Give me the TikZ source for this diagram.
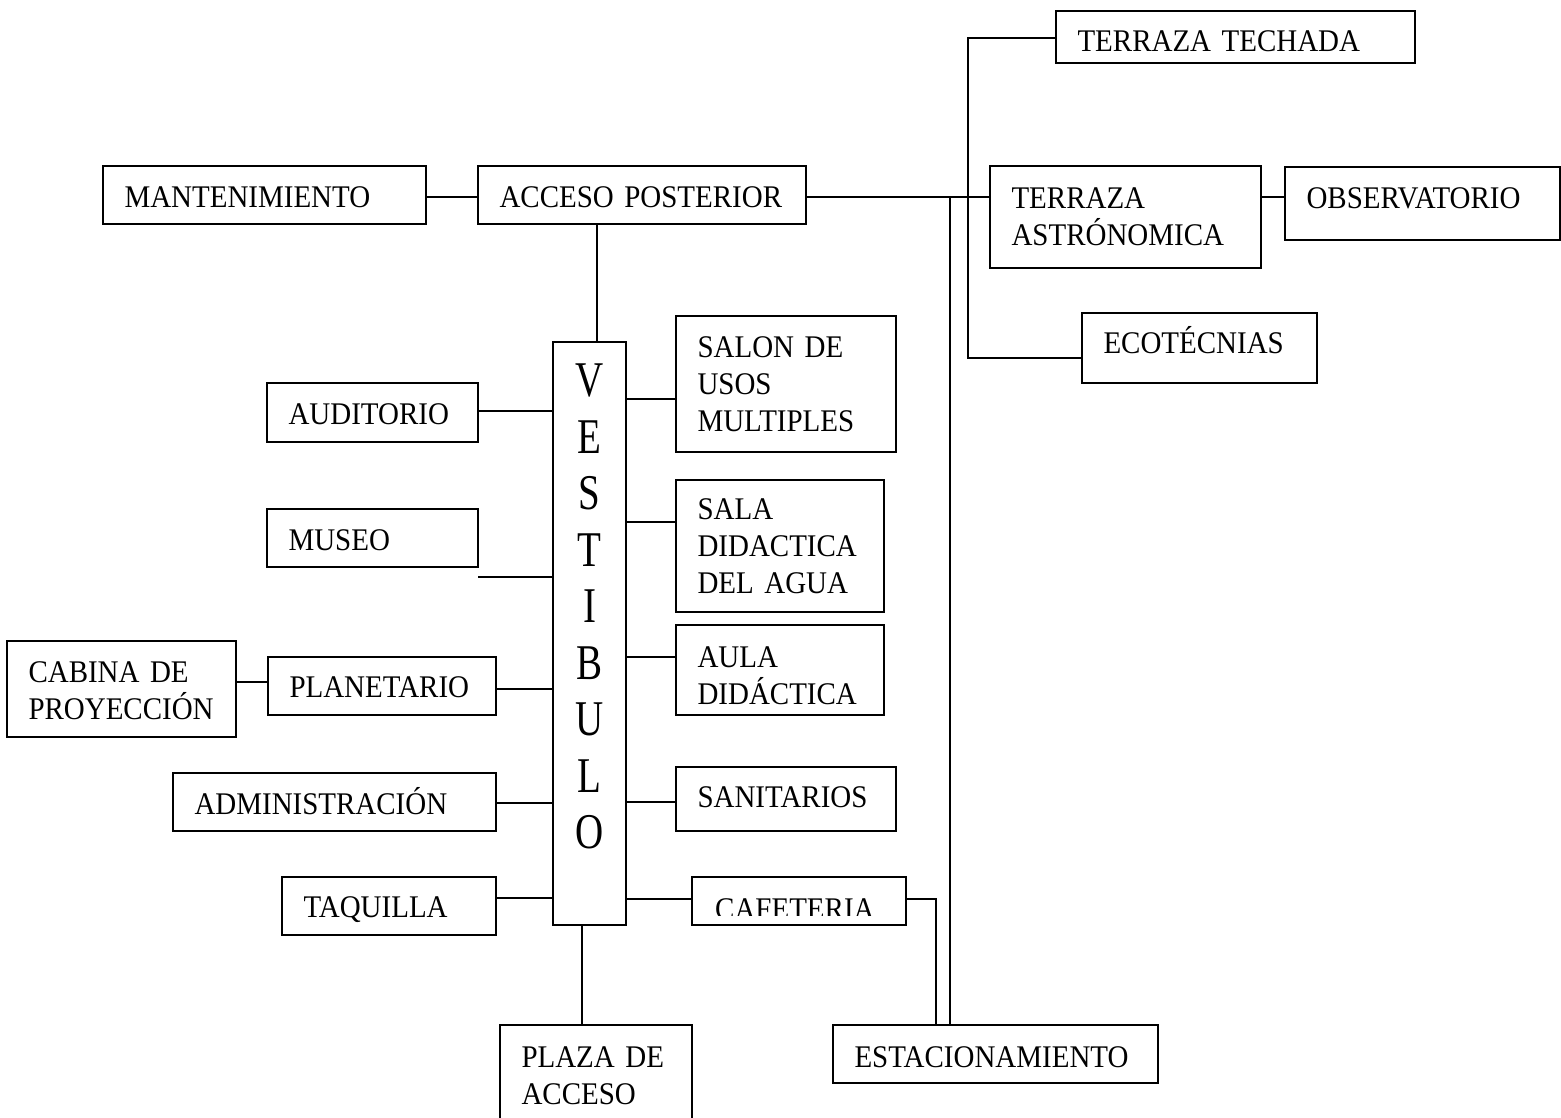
\documentclass[tikz,border=0pt]{standalone}
\usepackage{fontspec}
\newfontfamily\mainf[FakeStretch=0.92]{Liberation Serif}
\newfontfamily\vestf[FakeStretch=0.78]{Liberation Serif}
\usetikzlibrary{calc}
\begin{document}
\begin{tikzpicture}[x=1pt,y=-1pt,
  bx/.style={draw, line width=2pt, rectangle, outer sep=0pt, inner xsep=21.5pt, inner ysep=0pt,
    anchor=north west, align=left, font=\mainf\fontsize{31.5}{37}\selectfont},
  one/.style={text height=#1, text depth=0pt},
  ln/.style={line width=2pt}]
\clip (0,0) rectangle (1561,1118);
\fill[white] (0,0) rectangle (1561,1118);

% top right
\node[bx, minimum width=359pt, minimum height=52pt, text width=316pt, one=29.6pt] (tt) at (1056,11) {TERRAZA TECHADA};
\node[bx, minimum width=271pt, minimum height=102pt, text width=228pt] (ast) at (990,166) {TERRAZA\\ASTRÓNOMICA};
\node[bx, minimum width=275pt, minimum height=73pt, text width=232pt, one=9.6pt] (obs) at (1285,167) {OBSERVATORIO};
\node[bx, minimum width=235pt, minimum height=70pt, text width=192pt, one=10.6pt] (eco) at (1082,313) {ECOTÉCNIAS};

% top row
\node[bx, minimum width=323pt, minimum height=58pt, text width=280pt, one=24.6pt] (mant) at (103,166) {MANTENIMIENTO};
\node[bx, minimum width=328pt, minimum height=58pt, text width=285pt, one=25.6pt] (acc) at (478,166) {\mbox{ACCESO POSTERIOR}};

% vestibulo
\node[draw, line width=2pt, outer sep=0pt, inner sep=0pt, anchor=north west, minimum width=73pt, minimum height=583pt,
  align=center, font=\vestf\fontsize{50}{56.5}\selectfont] (vest) at (553,342)
  {V\\E\\S\\T\\I\\B\\U\\L\\O\rule[-54pt]{0pt}{54pt}};

% right column
\node[bx, minimum width=220pt, minimum height=136pt, text width=177pt] (salon) at (676,316) {\mbox{SALON DE}\\USOS\\MULTIPLES};
\node[bx, minimum width=208pt, minimum height=132pt, text width=165pt] (sala) at (676,480) {SALA\\DIDACTICA\\\mbox{DEL AGUA}};
\node[bx, minimum width=208pt, minimum height=90pt, text width=165pt] (aula) at (676,625) {AULA\rule{0pt}{31.6pt}\\DIDÁCTICA};
\node[bx, minimum width=220pt, minimum height=64pt, text width=177pt, one=17.6pt] (sanit) at (676,767) {SANITARIOS};
\node[bx, minimum width=214pt, minimum height=48pt] (caf) at (692,877) {};
\begin{scope}
  \clip (caf.north west) rectangle (caf.east |- 0,915);
  \node[anchor=base west, inner sep=0pt, font=\mainf\fontsize{31.5}{37}\selectfont] (caftext) at (715,919) {CAFETERIA};
\end{scope}

% left column
\node[bx, minimum width=211pt, minimum height=59pt, text width=168pt, one=24.6pt] (audit) at (267,383) {AUDITORIO};
\node[bx, minimum width=211pt, minimum height=58pt, text width=168pt, one=25.6pt] (museo) at (267,509) {MUSEO};
\node[bx, minimum width=228pt, minimum height=58pt, text width=185pt, one=23.6pt] (plan) at (268,657) {PLANETARIO};
\node[bx, minimum width=229pt, minimum height=96pt, text width=186pt] (cabina) at (7,641) {\mbox{CABINA DE}\rule{0pt}{24.6pt}\\PROYECCIÓN};
\node[bx, minimum width=323pt, minimum height=58pt, text width=280pt, one=24.6pt] (admin) at (173,773) {ADMINISTRACIÓN};
\node[bx, minimum width=214pt, minimum height=58pt, text width=171pt, one=23.6pt] (taq) at (282,877) {TAQUILLA};

% bottom
\node[bx, minimum width=192pt, minimum height=101pt, text width=149pt] (plaza) at (500,1025) {\mbox{PLAZA DE}\\ACCESO};
\node[bx, minimum width=325pt, minimum height=58pt, text width=282pt, one=26.6pt] (estac) at (833,1025) {ESTACIONAMIENTO};

% connectors
\draw[ln] (mant.east |- 0,197) -- (acc.west |- 0,197);
\draw[ln] (acc.east |- 0,197) -- (ast.west |- 0,197);
\draw[ln] (ast.east |- 0,197) -- (obs.west |- 0,197);
\coordinate (sptop) at (968,38);
\coordinate (spbot) at (968,358);
\draw[ln] (tt.west |- sptop) -- (sptop) -- (spbot) -- (eco.west |- spbot);
\coordinate (jn) at (950,197);
\draw[ln] (jn) -- (estac.north -| jn);
\coordinate (cafc) at (936,899);
\draw[ln] (caf.east |- cafc) -- (cafc) -- (estac.north -| cafc);
\coordinate (accx) at (597,0);
\draw[ln] (acc.south -| accx) -- (vest.north -| accx);
\coordinate (plx) at (582,0);
\draw[ln] (vest.south -| plx) -- (plaza.north -| plx);

\draw[ln] (audit.east |- 0,411) -- (vest.west |- 0,411);
\draw[ln] ($(museo.south east)+(0,10)$) -- (vest.west |- 0,577);
\draw[ln] (plan.east |- 0,689) -- (vest.west |- 0,689);
\draw[ln] (cabina.east |- 0,682) -- (plan.west |- 0,682);
\draw[ln] (admin.east |- 0,803) -- (vest.west |- 0,803);
\draw[ln] (taq.east |- 0,898) -- (vest.west |- 0,898);

\draw[ln] (vest.east |- 0,399) -- (salon.west |- 0,399);
\draw[ln] (vest.east |- 0,522) -- (sala.west |- 0,522);
\draw[ln] (vest.east |- 0,657) -- (aula.west |- 0,657);
\draw[ln] (vest.east |- 0,802) -- (sanit.west |- 0,802);
\draw[ln] (vest.east |- 0,899) -- (caf.west |- 0,899);
\end{tikzpicture}
\end{document}
